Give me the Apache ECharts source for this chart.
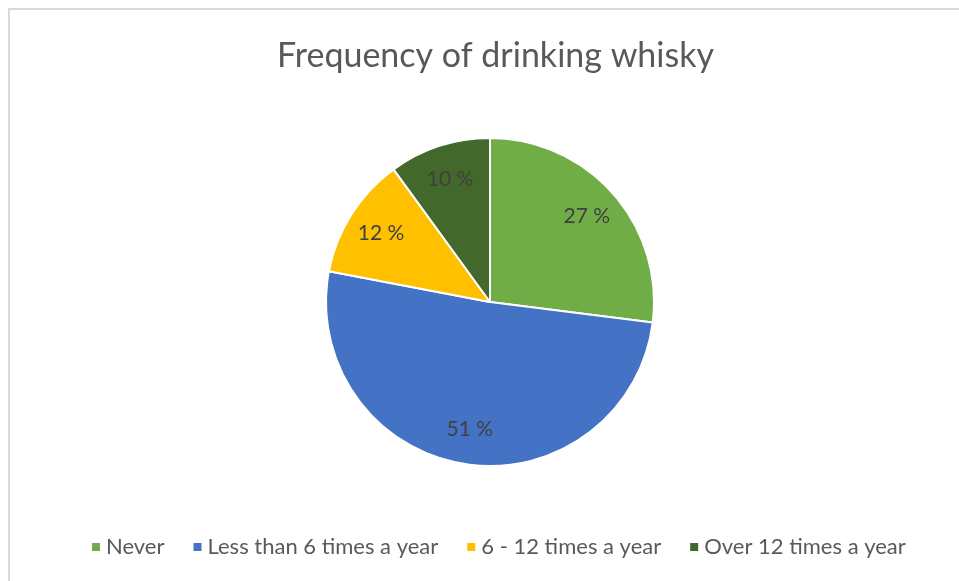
<!DOCTYPE html>
<html>
<head>
<meta charset="utf-8">
<script src="https://cdn.jsdelivr.net/npm/echarts@6/dist/echarts.min.js"></script>
<style>
  html, body { margin: 0; padding: 0; background: #fff; }
  #main { width: 959px; height: 581px; }
</style>
</head>
<body>
<div id="main"></div>
<script>
var categories = ['Never', 'Less than 6 times a year', '6 - 12 times a year', 'Over 12 times a year'];
var shares = [27, 51, 12, 10];
var colors = ['#70AD47', '#4472C4', '#FFC000', '#43682B'];

var myChart = echarts.init(document.getElementById('main'));

var pieData = [];
var labelData = [];
for (var i = 0; i < categories.length; i++) {
    pieData.push({ name: categories[i], value: shares[i], itemStyle: { color: colors[i] } });
    labelData.push({ name: categories[i], value: shares[i] });
}

var option = {
    textStyle: { fontFamily: 'Lato' },
    title: {
        text: 'Frequency of drinking whisky',
        left: 272,
        top: 34,
        textStyle: { fontFamily: 'Lato', fontSize: 34, fontWeight: 'normal', color: '#595959' }
    },
    legend: {
        data: categories,
        bottom: 18,
        left: 85,
        itemWidth: 10,
        itemHeight: 10,
        itemGap: 27,
        icon: 'rect',
        textStyle: { fontFamily: 'Lato', fontSize: 22, color: '#595959' }
    },
    graphic: [{
        type: 'rect',
        shape: { x: 9, y: 9, width: 1000, height: 1000 },
        style: { fill: 'none', stroke: '#D9D9D9', lineWidth: 2 },
        silent: true
    }],
    series: [
        {
            name: 'Frequency',
            type: 'pie',
            center: [490, 302],
            radius: 164,
            startAngle: 90,
            clockwise: true,
            label: { show: false },
            labelLine: { show: false },
            itemStyle: { borderColor: '#fff', borderWidth: 2 },
            emphasis: { disabled: true },
            data: pieData
        },
        {
            name: 'labels',
            type: 'pie',
            center: [490, 302],
            radius: [88, 164],
            startAngle: 90,
            clockwise: true,
            silent: true,
            legendHoverLink: false,
            itemStyle: { color: 'rgba(0,0,0,0)', borderWidth: 0 },
            label: {
                show: true,
                position: 'inside',
                formatter: '{c} %',
                fontFamily: 'Lato',
                fontSize: 21,
                color: '#404040'
            },
            labelLine: { show: false },
            emphasis: { disabled: true },
            data: labelData
        }
    ]
};

myChart.setOption(option);
</script>
</body>
</html>
